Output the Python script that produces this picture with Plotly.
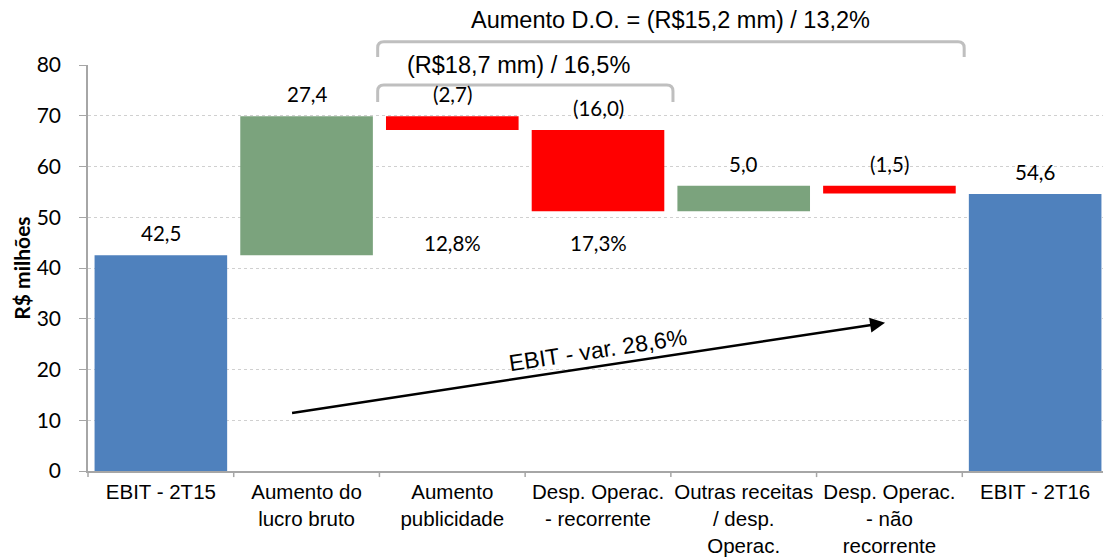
import plotly.graph_objects as go

categories = ["EBIT - 2T15", "Aumento do<br>lucro bruto", "Aumento<br>publicidade",
              "Desp. Operac.<br>- recorrente", "Outras receitas<br>/ desp.<br>Operac.",
              "Desp. Operac.<br>- não<br>recorrente", "EBIT - 2T16"]
measures = ["absolute", "relative", "relative", "relative", "relative", "relative", "absolute"]
values = [42.5, 27.4, -2.7, -16.0, 5.0, -1.5, 54.6]
value_labels = ["42,5", "27,4", "(2,7)", "(16,0)", "5,0", "(1,5)", "54,6"]
pct_labels = {2: "12,8%", 3: "17,3%"}

BLUE, GREEN, RED = "#4F81BD", "#7BA37D", "#FF0000"
NUM_FONT = "Lato, Open Sans"
TXT_FONT = "Liberation Sans, Arial"

# floating bars: base + height
bases, heights, colors, tops = [], [], [], []
level = 0.0
for m, v in zip(measures, values):
    if m == "absolute":
        bases.append(0); heights.append(v); colors.append(BLUE)
        level = v
    else:
        b = level if v > 0 else level + v
        bases.append(b); heights.append(abs(v))
        colors.append(GREEN if v > 0 else RED)
        level += v
    tops.append(bases[-1] + heights[-1])

fig = go.Figure(go.Bar(
    x=list(range(len(categories))), y=heights, base=bases,
    marker=dict(color=colors, line=dict(width=0)), width=0.91, hoverinfo="skip"
))

anns = []
for i, (t, lab) in enumerate(zip(tops, value_labels)):
    anns.append(dict(x=i, y=t, text=lab, showarrow=False, yanchor="bottom", yshift=8,
                     font=dict(family=NUM_FONT, size=20.5, color="#000")))
for i, lab in pct_labels.items():
    anns.append(dict(x=i, y=45, text=lab, showarrow=False,
                     font=dict(family=NUM_FONT, size=20.5, color="#000")))

# EBIT arrow
anns.append(dict(x=4.97, y=29.2, ax=0.89, ay=11.4, xref="x", yref="y", axref="x", ayref="y",
                 text="", showarrow=True, arrowhead=2, arrowsize=1.2, arrowwidth=2.5, arrowcolor="#000"))
anns.append(dict(x=3.0, y=23.8, text="EBIT - var. 28,6%", showarrow=False, textangle=-8.6,
                 font=dict(family=TXT_FONT, size=23, color="#000")))

anns.append(dict(x=0.5706, y=1.111, xref="paper", yref="paper",
                 text="Aumento D.O. = (R$15,2 mm) / 13,2%", showarrow=False, yanchor="middle",
                 font=dict(family=TXT_FONT, size=23.5, color="#000")))
anns.append(dict(x=0.4225, y=1.0, xref="paper", yref="paper",
                 text="(R$18,7 mm) / 16,5%", showarrow=False, yanchor="middle",
                 font=dict(family=TXT_FONT, size=23.5, color="#000")))
anns.append(dict(x=-0.066, y=0.5, xref="paper", yref="paper", text="<b>R$ milhões</b>",
                 textangle=-90, showarrow=False, xanchor="center",
                 font=dict(family=NUM_FONT, size=21, color="#000")))


def bracket(x0, x1, ytop, ybot, r=0.006):
    ry = r * 1020 / 406
    path = (f"M {x0},{ybot} L {x0},{ytop - ry} Q {x0},{ytop} {x0 + r},{ytop} "
            f"L {x1 - r},{ytop} Q {x1},{ytop} {x1},{ytop - ry} L {x1},{ybot}")
    return dict(type="path", path=path, xref="paper", yref="paper",
                line=dict(color="#BFBFBF", width=3))


shapes = [bracket(0.284, 0.859, 1.057, 1.020), bracket(0.284, 0.5735, 0.951, 0.909)]

# category boundary ticks on x axis
for k in range(8):
    shapes.append(dict(type="line", xref="paper", yref="paper", x0=k / 7, x1=k / 7,
                       y0=0, y1=-0.015, line=dict(color="#A6A6A6", width=1.5)))

fig.update_layout(
    width=1111, height=559, plot_bgcolor="white", paper_bgcolor="white",
    margin=dict(l=80, r=11, t=57, b=96), showlegend=False,
    annotations=anns, shapes=shapes,
    xaxis=dict(tickmode="array", tickvals=list(range(len(categories))), ticktext=categories,
               range=[-0.5, 6.5], showline=True, linecolor="#A6A6A6", linewidth=1.5,
               ticks="", showgrid=False, zeroline=False, ticklabelstandoff=2,
               tickfont=dict(family=TXT_FONT, size=20.5, color="#000")),
    yaxis=dict(range=[0, 80], dtick=10, showline=True, linecolor="#A6A6A6", linewidth=1.5,
               ticks="outside", ticklen=7, tickcolor="#A6A6A6", showgrid=True,
               gridcolor="#D0D0D0", griddash="dot", gridwidth=1, zeroline=False,
               ticklabelstandoff=14,
               tickfont=dict(family=NUM_FONT, size=21, color="#000")),
)

fig.write_html("out.html")
